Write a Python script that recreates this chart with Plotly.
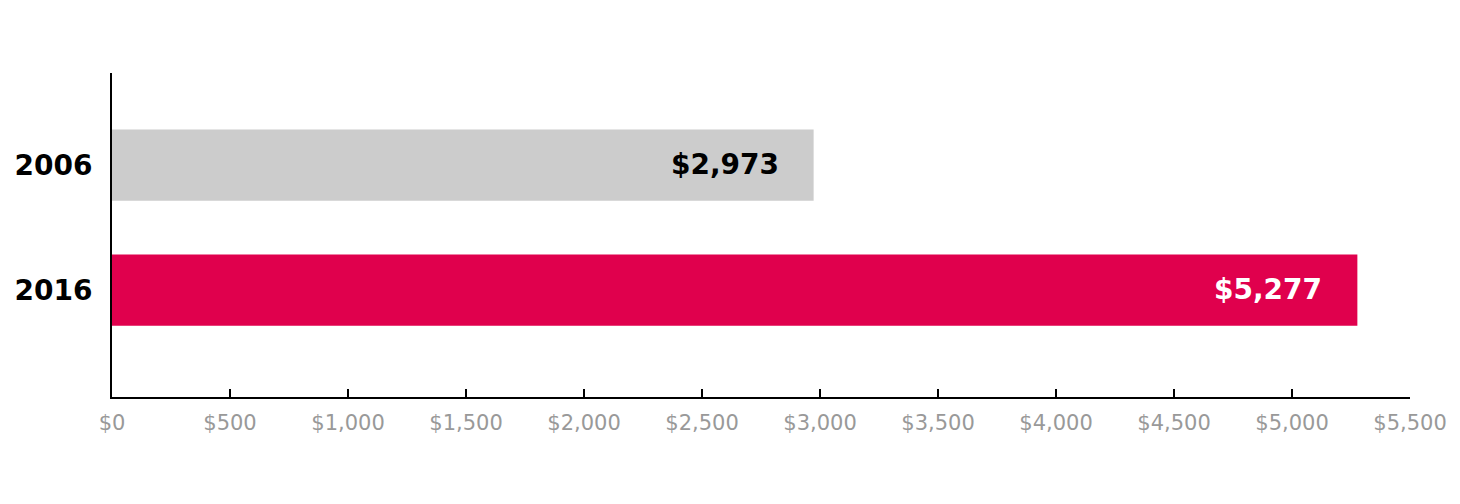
import plotly.graph_objects as go

years = ["2006", "2016"]
values = [2973, 5277]
value_labels = ["$2,973", "$5,277"]
bar_colors = ["#cccccc", "#e0004d"]
label_colors = ["#000000", "#ffffff"]
tick_vals = [0, 500, 1000, 1500, 2000, 2500, 3000, 3500, 4000, 4500, 5000, 5500]
tick_text = ["$0", "$500", "$1,000", "$1,500", "$2,000", "$2,500", "$3,000",
             "$3,500", "$4,000", "$4,500", "$5,000", "$5,500"]

fig = go.Figure()
fig.add_trace(go.Bar(
    x=values, y=years, orientation="h",
    marker=dict(color=bar_colors, line=dict(width=0)),
    width=0.57, hoverinfo="skip",
))

for i, (v, t, c) in enumerate(zip(values, value_labels, label_colors)):
    fig.add_annotation(x=v, y=i, xref="x", yref="y", text=t, showarrow=False,
                       xanchor="right", xshift=-33, yshift=1,
                       font=dict(family="DejaVu Sans", size=28, color=c, weight="bold"))

fig.update_layout(
    width=1452, height=496,
    margin=dict(l=104, r=50, t=65, b=107),
    paper_bgcolor="white", plot_bgcolor="white",
    showlegend=False,
    xaxis=dict(range=[0, 5500], tickvals=tick_vals, ticktext=tick_text,
               showgrid=False, zeroline=False, showline=True, linecolor="black",
               linewidth=2, ticks="inside", ticklen=8, tickwidth=2, tickcolor="black",
               ticklabelstandoff=6, automargin=False,
               tickfont=dict(family="DejaVu Sans", size=21, color="#999999")),
    yaxis=dict(type="category", categoryorder="array", categoryarray=years,
               range=[1.856, -0.736], showgrid=False, zeroline=False,
               showline=True, linecolor="black", linewidth=2, ticks="",
               ticklabelstandoff=12, automargin=False,
               tickfont=dict(family="DejaVu Sans", size=28, color="black", weight="bold")),
)

fig.write_html("out.html")
